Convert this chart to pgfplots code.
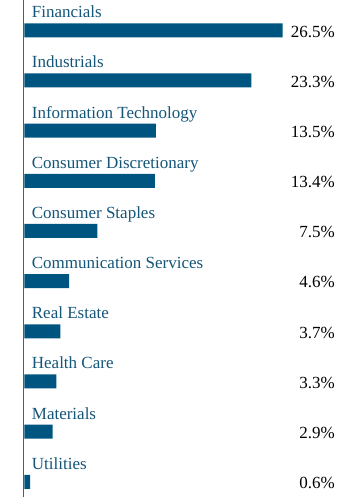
\documentclass[border=0pt]{standalone}
\usepackage{pgfplots}
\pgfplotsset{compat=1.18}
\usepackage{pgfplotstable}
\usepackage{fontspec}
\setmainfont{Liberation Serif}
\definecolor{barblue}{RGB}{0,84,128}
\definecolor{labblue}{RGB}{20,85,120}
\definecolor{axgray}{RGB}{90,90,90}
\pgfplotstableread{
idx val name
0 26.5 Financials
1 23.3 Industrials
2 13.5 {Information Technology}
3 13.4 {Consumer Discretionary}
4 7.5 {Consumer Staples}
5 4.6 {Communication Services}
6 3.7 {Real Estate}
7 3.3 {Health Care}
8 2.9 Materials
9 0.6 Utilities
}\datatable
\begin{document}
\begin{tikzpicture}
\begin{axis}[
  width=360bp, height=497bp, scale only axis,
  xmin=-2.49, xmax=34.43,
  ymin=-0.604, ymax=9.304,
  y dir=reverse,
  hide axis,
  clip=false,
  /pgf/number format/assume math mode=true,
]
\addplot[xbar, bar width=14bp, fill=barblue, draw=none] table[x=val, y=idx] {\datatable};
\addplot[draw=axgray, line width=1.3bp] coordinates {(-0.08,-0.604) (-0.08,9.304)};
\addplot[only marks, mark=none, point meta=explicit symbolic,
  nodes near coords,
  nodes near coords style={anchor=base west, inner sep=0pt, text=labblue, font=\fontsize{17bp}{20bp}\selectfont}]
  table[x expr=0.76, y expr=\thisrow{idx}-0.249, meta=name] {\datatable};
\addplot[only marks, mark=none, point meta=explicit,
  nodes near coords={\pgfmathprintnumber[fixed,precision=1,fixed zerofill]{\pgfplotspointmeta}\%},
  nodes near coords style={anchor=base east, inner sep=0pt, text=black, font=\fontsize{17bp}{20bp}\selectfont}]
  table[x expr=31.87, y expr=\thisrow{idx}+0.136, meta=val] {\datatable};
\end{axis}
\pgfresetboundingbox
\useasboundingbox (current axis.south west) rectangle (current axis.north east);
\end{tikzpicture}
\end{document}
